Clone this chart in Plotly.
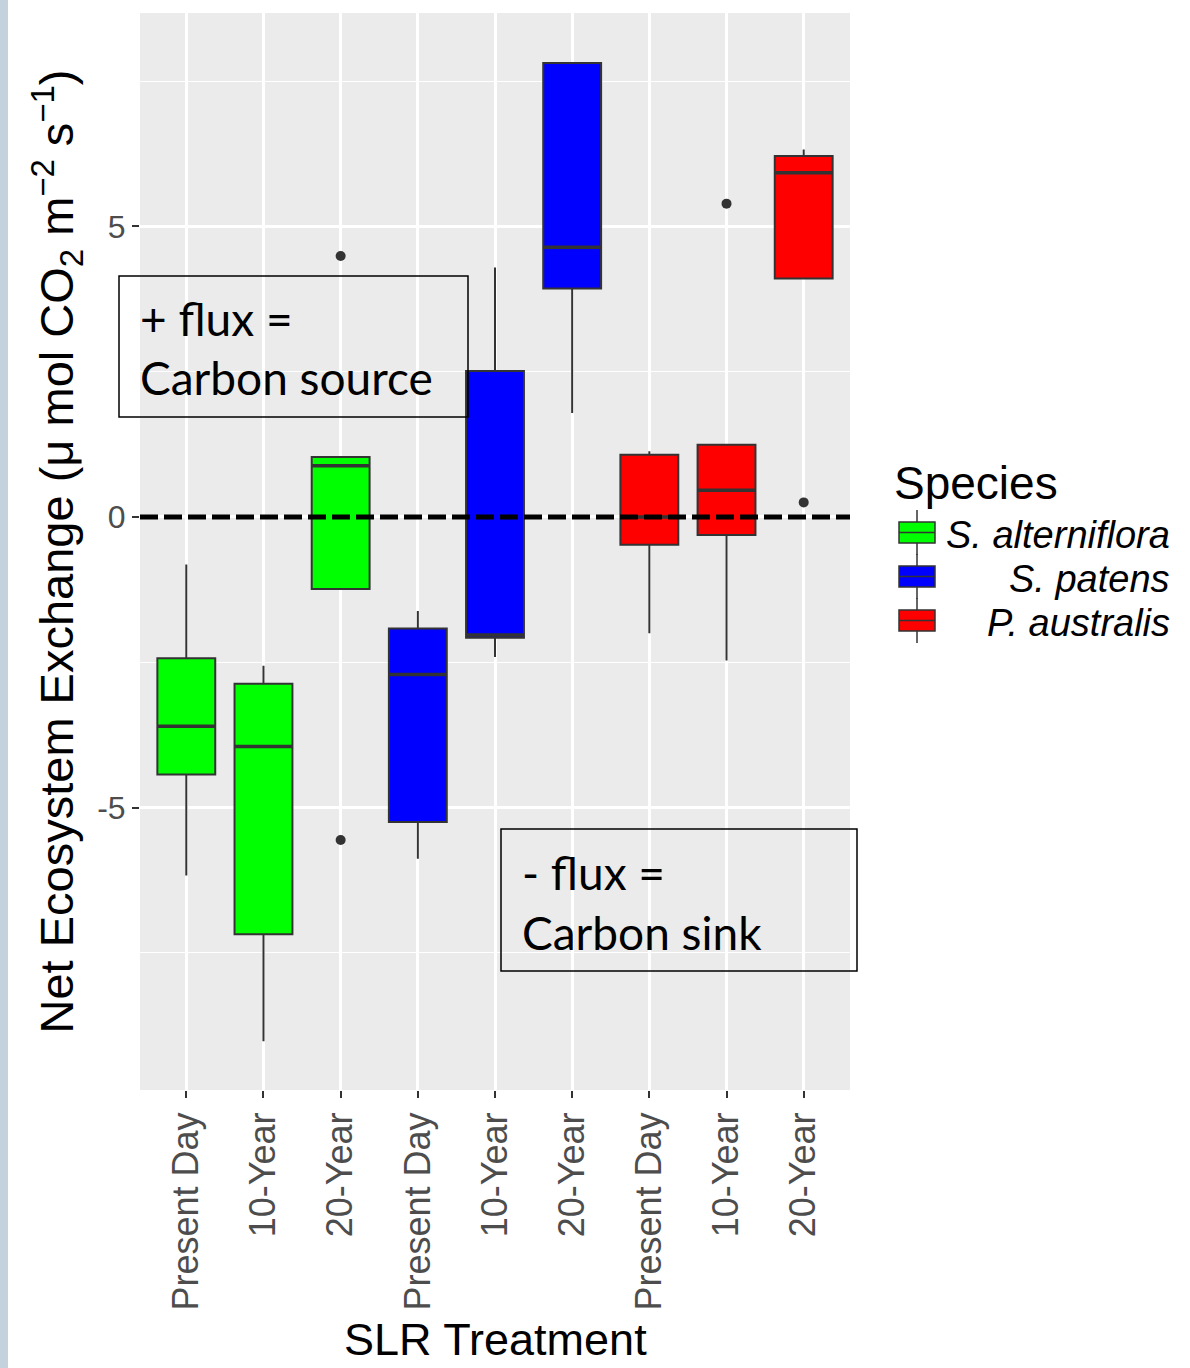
import plotly.graph_objects as go

# SLR treatment levels, repeated once per species along the x axis
tick_labels = ["Present Day", "10-Year", "20-Year",
               "Present Day", "10-Year", "20-Year",
               "Present Day", "10-Year", "20-Year"]
positions = [0, 1, 2, 3, 4, 5, 6, 7, 8]

species = ["S. alterniflora", "S. patens", "P. australis"]
species_of_box = [0, 0, 0, 1, 1, 1, 2, 2, 2]
species_colors = ["#00FF00", "#0000FF", "#FF0000"]

# Box statistics (NEE, umol CO2 m-2 s-1), one entry per box
lower_whisker = [-6.17, -9.02, -1.24, -5.88, -2.41, 1.79, -2.00, -2.47, 4.10]
q1_values     = [-4.43, -7.18, -1.24, -5.25, -2.08, 3.93, -0.48, -0.31, 4.10]
medians       = [-3.60, -3.95, 0.88, -2.71, -2.03, 4.64, 0.00, 0.46, 5.92]
q3_values     = [-2.43, -2.87, 1.03, -1.92, 2.51, 7.81, 1.07, 1.24, 6.21]
upper_whisker = [-0.82, -2.56, 1.03, -1.62, 4.29, 7.81, 1.13, 1.24, 6.32]

# Outlying observations
outlier_pos = [2, 2, 7, 8]
outlier_val = [4.49, -5.56, 5.39, 0.25]

y_ticks = [-5, 0, 5]

# figure geometry (pixels)
W, H = 1190, 1368
ML, MR, MT, MB = 140, 340, 13, 278


def fx(px):
    return (px - ML) / (W - ML - MR)


def fy(py):
    return (H - MB - py) / (H - MT - MB)


OUTLINE = "#333333"
AXIS_FONT = "Liberation Sans, Arial, sans-serif"
NOTE_FONT = "Lato, Carlito, Calibri, sans-serif"

fig = go.Figure()

for s, name in enumerate(species):
    idx = [i for i in range(len(positions)) if species_of_box[i] == s]
    fig.add_trace(go.Box(
        name=name,
        x=[positions[i] for i in idx],
        lowerfence=[lower_whisker[i] for i in idx],
        q1=[q1_values[i] for i in idx],
        median=[medians[i] for i in idx],
        q3=[q3_values[i] for i in idx],
        upperfence=[upper_whisker[i] for i in idx],
        width=0.75,
        whiskerwidth=0,
        fillcolor=species_colors[s],
        line=dict(color=OUTLINE, width=2),
        boxpoints=False,
        showlegend=False,
        hoverinfo="skip",
    ))
    # thicker median bar drawn as a flat box at the median
    fig.add_trace(go.Box(
        x=[positions[i] for i in idx],
        lowerfence=[medians[i] for i in idx],
        q1=[medians[i] for i in idx],
        median=[medians[i] for i in idx],
        q3=[medians[i] for i in idx],
        upperfence=[medians[i] for i in idx],
        width=0.75,
        whiskerwidth=0,
        fillcolor="rgba(0,0,0,0)",
        line=dict(color=OUTLINE, width=3.5),
        boxpoints=False,
        showlegend=False,
        hoverinfo="skip",
    ))

fig.add_trace(go.Scatter(
    x=outlier_pos, y=outlier_val, mode="markers",
    marker=dict(color=OUTLINE, size=10),
    showlegend=False, hoverinfo="skip",
))

shapes = []
# zero-flux reference line
shapes.append(dict(type="line", xref="paper", yref="y", x0=0, x1=1, y0=0, y1=0,
                   line=dict(color="black", width=5, dash="18px,6px")))
# annotation frames
shapes.append(dict(type="rect", xref="paper", yref="paper",
                   x0=fx(119), x1=fx(468), y0=fy(417), y1=fy(276),
                   line=dict(color="black", width=1.5)))
shapes.append(dict(type="rect", xref="paper", yref="paper",
                   x0=fx(501), x1=fx(857), y0=fy(971), y1=fy(829),
                   line=dict(color="black", width=1.5)))
# left edge strip
shapes.append(dict(type="rect", xref="paper", yref="paper",
                   x0=fx(0), x1=fx(8), y0=fy(H), y1=fy(0),
                   line=dict(width=0), fillcolor="#c4d2de"))

annotations = [
    dict(text="+ flux =", x=fx(138), y=fy(318), xref="paper", yref="paper",
         xanchor="left", yanchor="middle", showarrow=False,
         font=dict(family=NOTE_FONT, size=46, color="black")),
    dict(text="Carbon source", x=fx(138), y=fy(378), xref="paper", yref="paper",
         xanchor="left", yanchor="middle", showarrow=False,
         font=dict(family=NOTE_FONT, size=46, color="black")),
    dict(text="- flux =", x=fx(520), y=fy(872), xref="paper", yref="paper",
         xanchor="left", yanchor="middle", showarrow=False,
         font=dict(family=NOTE_FONT, size=46, color="black")),
    dict(text="Carbon sink", x=fx(520), y=fy(932), xref="paper", yref="paper",
         xanchor="left", yanchor="middle", showarrow=False,
         font=dict(family=NOTE_FONT, size=46, color="black")),
    # axis titles
    dict(text="Net Ecosystem Exchange (\u03bc mol CO<sub>2</sub> m<sup>\u22122</sup> s<sup>\u22121</sup>)",
         x=fx(57), y=0.5, xref="paper", yref="paper", textangle=-90,
         xanchor="center", yanchor="middle", showarrow=False,
         font=dict(family=AXIS_FONT, size=47, color="black")),
    dict(text="SLR Treatment", x=0.5, y=fy(1367), xref="paper", yref="paper",
         xanchor="center", yanchor="bottom", showarrow=False,
         font=dict(family=AXIS_FONT, size=45, color="black")),
    # legend title
    dict(text="Species", x=fx(892), y=fy(483), xref="paper", yref="paper",
         xanchor="left", yanchor="middle", showarrow=False,
         font=dict(family=AXIS_FONT, size=46, color="black")),
]

# legend keys
key_tops = [522, 566, 610]
for s, name in enumerate(species):
    top = key_tops[s]
    bot = top + 21
    mid = (top + bot) / 2
    shapes.append(dict(type="line", xref="paper", yref="paper",
                       x0=fx(917), x1=fx(917), y0=fy(bot + 12), y1=fy(top - 12),
                       line=dict(color=OUTLINE, width=1.5)))
    shapes.append(dict(type="rect", xref="paper", yref="paper",
                       x0=fx(899), x1=fx(935), y0=fy(bot), y1=fy(top),
                       fillcolor=species_colors[s], line=dict(color=OUTLINE, width=1.5)))
    shapes.append(dict(type="line", xref="paper", yref="paper",
                       x0=fx(899), x1=fx(935), y0=fy(mid), y1=fy(mid),
                       line=dict(color=OUTLINE, width=1.5)))
    annotations.append(dict(text="<i>%s</i>" % name, x=fx(1172), y=fy(mid + 2),
                            xref="paper", yref="paper", xanchor="right", yanchor="middle",
                            showarrow=False,
                            font=dict(family=AXIS_FONT, size=38, color="black")))

fig.update_layout(
    width=W, height=H, autosize=False,
    margin=dict(l=ML, r=MR, t=MT, b=MB, pad=0),
    paper_bgcolor="white",
    plot_bgcolor="#EBEBEB",
    boxmode="overlay",
    shapes=shapes,
    annotations=annotations,
    showlegend=False,
)

fig.update_xaxes(
    range=[-0.6, 8.6],
    tickmode="array", tickvals=positions, ticktext=tick_labels,
    tickangle=-90,
    ticks="outside", ticklen=7, tickwidth=2, tickcolor=OUTLINE,
    tickfont=dict(family=AXIS_FONT, size=36, color="#4D4D4D"),
    showgrid=True, gridcolor="white", gridwidth=2.5,
    zeroline=False, showline=False,
)

fig.update_yaxes(
    range=[-9.86, 8.67],
    tickmode="array", tickvals=y_ticks, ticktext=[str(v) for v in y_ticks],
    ticks="outside", ticklen=7, tickwidth=2, tickcolor=OUTLINE,
    tickfont=dict(family=AXIS_FONT, size=32, color="#4D4D4D"),
    showgrid=True, gridcolor="white", gridwidth=2.5,
    minor=dict(tickvals=[-7.5, -2.5, 2.5, 7.5], showgrid=True,
               gridcolor="white", gridwidth=1.2, ticks=""),
    zeroline=False, showline=False,
)

fig.write_html("out.html")
